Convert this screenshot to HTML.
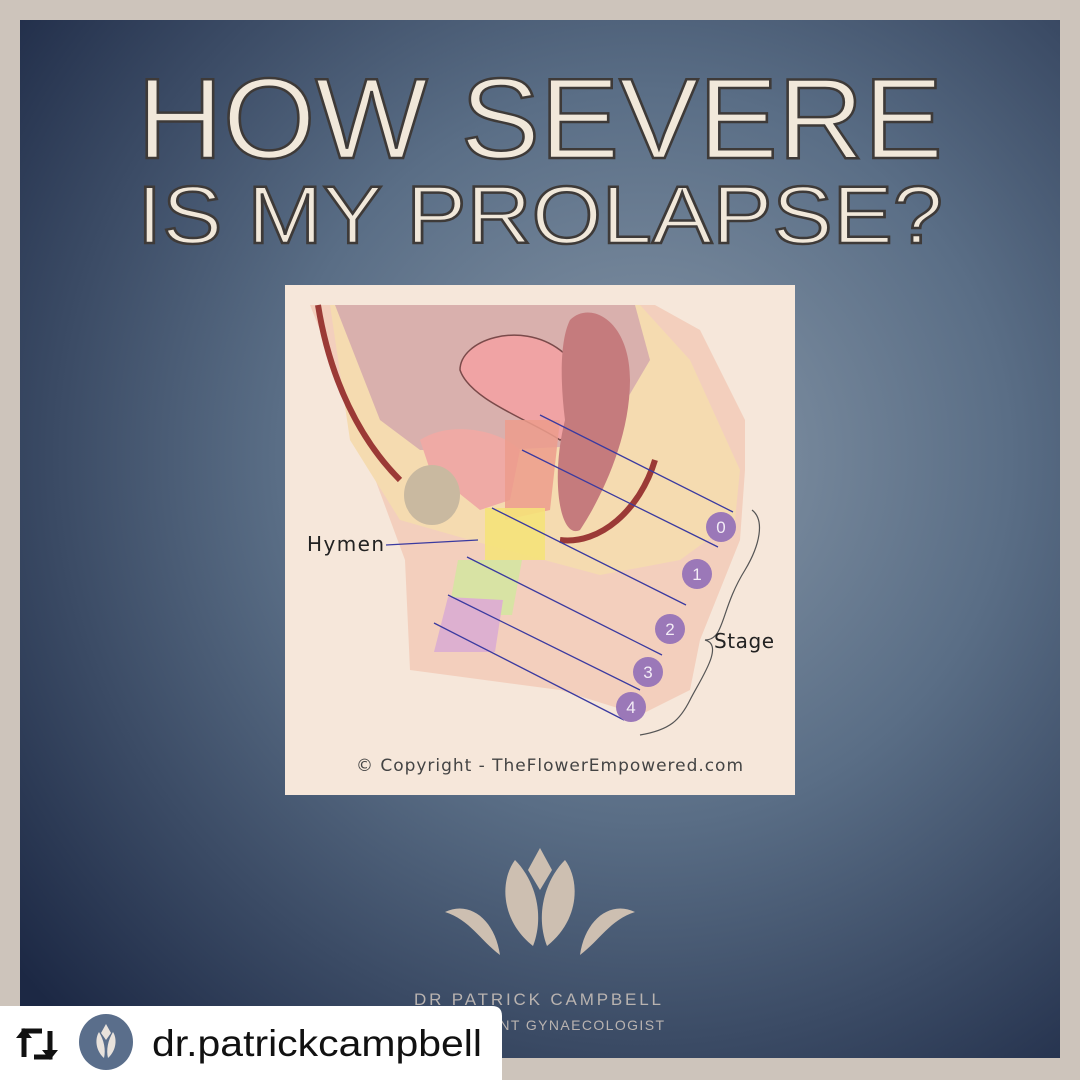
<!DOCTYPE html>
<html><head><meta charset="utf-8"><style>
html,body{margin:0;padding:0;width:1080px;height:1080px;overflow:hidden;background:#cdc4bb}
</style></head><body>
<svg width="1080" height="1080" viewBox="0 0 1080 1080" xmlns="http://www.w3.org/2000/svg">
<defs>
<radialGradient id="bg" cx="0.6" cy="0.42" r="0.78">
<stop offset="0" stop-color="#8797a8"/>
<stop offset="0.45" stop-color="#5a6e86"/>
<stop offset="1" stop-color="#1c2844"/>
</radialGradient>
</defs>
<rect width="1080" height="1080" fill="#cdc4bb"/>
<rect x="20" y="20" width="1040" height="1038" fill="url(#bg)"/>
<g font-family="Liberation Sans, sans-serif" fill="#f1e8da" stroke="#3e3a38" stroke-width="2.5" font-weight="400">
<text x="137" y="158" font-size="114" textLength="806" lengthAdjust="spacingAndGlyphs">HOW SEVERE</text>
<text x="137" y="243" font-size="82" textLength="806" lengthAdjust="spacingAndGlyphs">IS MY PROLAPSE?</text>
</g>
<!-- diagram -->
<rect x="285" y="285" width="510" height="510" fill="#f6e7da"/>
<path d="M310 305 L655 305 L700 330 L745 420 L745 470 L740 540 L700 640 L690 690 L640 715 L560 690 L410 670 L405 560 L320 330 Z" fill="#f3cfbd"/>
<path d="M330 305 L640 305 L690 360 L740 470 L735 520 L680 560 L600 575 L470 540 L400 520 L350 440 Z" fill="#f5dbb0"/>
<path d="M335 305 L635 305 L650 360 L600 445 L500 450 L420 450 L380 420 Z" fill="#d9b0ad"/>
<path d="M318 305 C330 380 360 440 400 480" stroke="#9b3a36" stroke-width="6" fill="none"/>
<path d="M460 370 C460 340 520 320 560 350 C600 380 590 430 560 440 C530 420 470 400 460 370 Z" fill="#f0a3a4" stroke="#7a4a4a" stroke-width="1.5"/>
<path d="M570 320 C590 300 630 320 630 380 C630 440 600 500 580 530 C560 540 550 480 565 420 C560 380 560 340 570 320 Z" fill="#c57b7d"/>
<path d="M420 440 C450 420 500 430 520 450 L510 500 L480 510 L430 470 Z" fill="#efaaa5"/>
<ellipse cx="432" cy="495" rx="28" ry="30" fill="#c9b9a0"/>
<path d="M560 540 C600 545 640 510 655 460" stroke="#9b3a36" stroke-width="6" fill="none"/>
<path d="M505 420 L560 420 L550 510 L505 520 Z" fill="#ec9c8c" opacity="0.85"/>
<rect x="485" y="508" width="60" height="52" fill="#f5e27a" opacity="0.9"/>
<path d="M458 560 L522 560 L512 615 L448 615 Z" fill="#d8e3a4"/>
<path d="M448 597 L503 600 L495 652 L434 652 Z" fill="#ddb0d0"/>
<g stroke="#3a3aa0" stroke-width="1.3" fill="none">
<line x1="540" y1="415" x2="733" y2="512"/>
<line x1="522" y1="450" x2="718" y2="547"/>
<line x1="492" y1="508" x2="686" y2="605"/>
<line x1="467" y1="557" x2="662" y2="655"/>
<line x1="448" y1="595" x2="640" y2="690"/>
<line x1="434" y1="623" x2="624" y2="720"/>
<path d="M386 545 L478 540"/>
</g>
<path d="M752 510 C765 520 760 545 745 570 C720 610 725 640 705 640 C725 645 700 680 690 700 C680 720 670 730 640 735" stroke="#555" stroke-width="1.2" fill="none"/>
<g fill="#9b78b8">
<circle cx="721" cy="527" r="15"/><circle cx="697" cy="574" r="15"/><circle cx="670" cy="629" r="15"/><circle cx="648" cy="672" r="15"/><circle cx="631" cy="707" r="15"/>
</g>
<g font-family="Liberation Sans, sans-serif" font-size="17" fill="#f3ecf6" text-anchor="middle">
<text x="721" y="533">0</text><text x="697" y="580">1</text><text x="670" y="635">2</text><text x="648" y="678">3</text><text x="631" y="713">4</text>
</g>
<g font-family="DejaVu Sans, sans-serif" fill="#222">
<text x="307" y="551" font-size="20" textLength="77">Hymen</text>
<text x="714" y="648" font-size="20" textLength="60">Stage</text>
<text x="356" y="771" font-size="17" fill="#444" textLength="387">© Copyright - TheFlowerEmpowered.com</text>
</g>
<!-- logo -->
<g fill="#cdbfb1">
<path d="M540 848 L552 870 L540 890 L528 870 Z"/>
<path d="M533 946 C500 920 500 880 515 860 C535 880 545 915 533 946 Z"/>
<path d="M547 946 C580 920 580 880 565 860 C545 880 535 915 547 946 Z"/>
<path d="M445 912 C470 900 495 920 500 955 C480 940 470 920 445 912 Z"/>
<path d="M635 912 C610 900 585 920 580 955 C600 940 610 920 635 912 Z"/>
</g>
<g font-family="Liberation Sans, sans-serif" fill="#b9b3b0" font-size="17">
<text x="414" y="1005" textLength="247">DR PATRICK CAMPBELL</text>
<text x="414" y="1030" font-size="14" textLength="250">CONSULTANT GYNAECOLOGIST</text>
</g>
<!-- repost bar -->
<path d="M0 1006 L492 1006 Q502 1006 502 1016 L502 1080 L0 1080 Z" fill="#fff"/>
<g stroke="#111" stroke-width="5" fill="none">
<path d="M24 1057 L24 1031 L42 1031"/><path d="M50 1031 L50 1057 L34 1057"/>
</g>
<path d="M16 1038 L24 1028 L32 1038 Z" fill="#111"/><path d="M42 1050 L50 1060 L58 1050 Z" fill="#111"/>
<ellipse cx="106" cy="1042" rx="27" ry="28" fill="#5a6e8b"/>
<path d="M106 1024 L111 1033 L106 1040 L101 1033 Z M104 1058 C95 1050 95 1038 99 1032 C104 1040 106 1050 104 1058 Z M108 1058 C117 1050 117 1038 113 1032 C108 1040 106 1050 108 1058 Z" fill="#e8e2dc"/>
<text x="152" y="1056" font-family="Liberation Sans, sans-serif" font-size="37" fill="#111" textLength="330" lengthAdjust="spacingAndGlyphs">dr.patrickcampbell</text>
</svg>
</body></html>
